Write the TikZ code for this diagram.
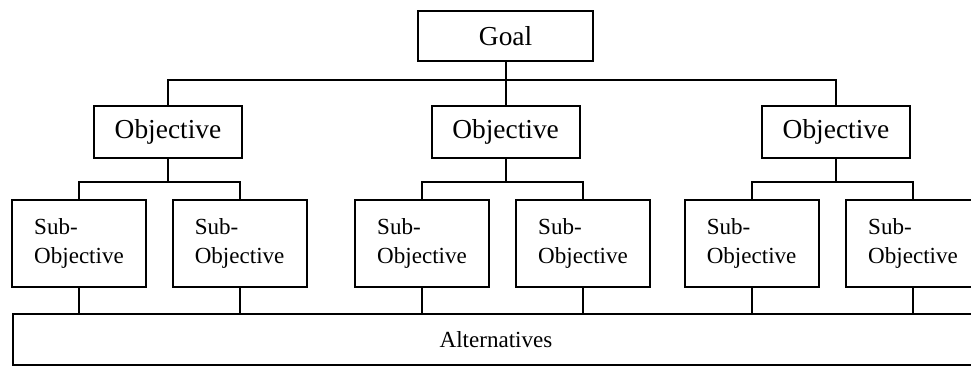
\documentclass[tikz,border=0pt]{standalone}
\usepackage{fontspec}
\setmainfont{Liberation Serif}
\begin{document}
\begin{tikzpicture}[
        line width=1.5pt,
        bigbox/.style={draw, minimum width=3.7cm, minimum height=1.3cm, inner sep=0pt, font=\fontsize{19.5}{23}\selectfont},
        subbox/.style={draw, minimum width=3.35cm, minimum height=2.175cm, inner sep=0pt, align=left, font=\fontsize{16.4}{20.6}\selectfont},
    ]
        \useasboundingbox (0, 0) rectangle (24.275, 9.175);
        % Goal
        \node[bigbox, minimum width=4.375cm, minimum height=1.25cm] (goal) at (12.64, 8.275) {Goal};
        \coordinate (bus) at (0, 7.175);
        
        % Objectives
        \node[bigbox] (obj1) at (4.2, 5.875) {Objective};
        \node[bigbox] (obj2) at (12.64, 5.875) {Objective};
        \node[bigbox] (obj3) at (20.9, 5.875) {Objective};
        \draw (goal.south) -- (obj2.north);
        \draw (obj1.north) -- (obj1.north |- bus) -- (obj3.north |- bus) -- (obj3.north);
        
        % Sub-objectives
        \node[subbox] (sub1) at (1.975, 3.09) {Sub-\\Objective};
        \node[subbox] (sub2) at (5.99, 3.09) {Sub-\\Objective};
        \node[subbox] (sub3) at (10.55, 3.09) {Sub-\\Objective};
        \node[subbox] (sub4) at (14.575, 3.09) {Sub-\\Objective};
        \node[subbox] (sub5) at (18.79, 3.09) {Sub-\\Objective};
        \node[subbox] (sub6) at (22.825, 3.09) {Sub-\\Objective};
        \coordinate (subbus) at (0, 4.625);
        \draw (obj1.south) -- (obj1.south |- subbus);
        \draw (obj2.south) -- (obj2.south |- subbus);
        \draw (obj3.south) -- (obj3.south |- subbus);
        \draw (sub1.north) -- (sub1.north |- subbus) -- (sub2.north |- subbus) -- (sub2.north);
        \draw (sub3.north) -- (sub3.north |- subbus) -- (sub4.north |- subbus) -- (sub4.north);
        \draw (sub5.north) -- (sub5.north |- subbus) -- (sub6.north |- subbus) -- (sub6.north);
        
        % Alternatives
        \node[draw, minimum width=24.15cm, minimum height=1.275cm, inner sep=0pt, font=\fontsize{16.4}{20}\selectfont] (alt) at (12.4, 0.6875) {Alternatives};
        \foreach \s in {sub1, sub2, sub3, sub4, sub5, sub6}
            \draw (\s.south) -- (\s.south |- alt.north);
    \end{tikzpicture}
\end{document}
